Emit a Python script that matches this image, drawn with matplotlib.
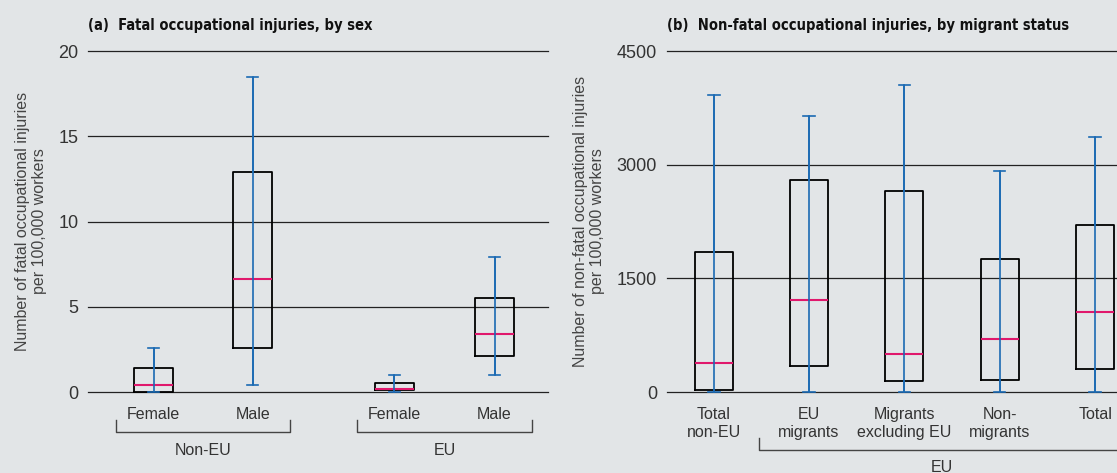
import matplotlib
matplotlib.use('Agg')
import matplotlib.pyplot as plt

# panel (a): fatal injuries by sex
fatal_labels=['Female','Male','Female','Male']
fatal_groups=['Non-EU','EU']
fatal_lo=[0.0,0.4,0.0,1.0]
fatal_q1=[0.0,2.6,0.1,2.1]
fatal_med=[0.4,6.6,0.2,3.4]
fatal_q3=[1.4,12.9,0.55,5.5]
fatal_hi=[2.6,18.5,1.0,7.9]

# panel (b): non-fatal injuries by migrant status
nonfatal_labels=['Total\nnon-EU','EU\nmigrants','Migrants\nexcluding EU','Non-\nmigrants','Total']
nonfatal_group='EU'
nonfatal_lo=[0,0,0,0,0]
nonfatal_q1=[30,340,150,160,300]
nonfatal_med=[380,1210,500,700,1060]
nonfatal_q3=[1850,2800,2650,1760,2200]
nonfatal_hi=[3920,3640,4050,2920,3360]

BG='#e2e5e7'
BLUE='#1b6ab3'
PINK='#e0186c'
TXT='#333333'
TITLE_FONT=['Liberation Sans Narrow','DejaVu Sans Condensed','DejaVu Sans']
BODY_FONT=['Liberation Sans','DejaVu Sans']

fig=plt.figure(figsize=(11.17,4.73),dpi=100,facecolor=BG)
axa=fig.add_axes([88/1117,(473-392)/473,460/1117,341/473])
axb=fig.add_axes([666.6/1117,(473-392)/473,450.4/1117,341/473])


def draw_boxes(ax,pos,lo,q1,med,q3,hi,width,capw):
    stats=[dict(whislo=a,q1=b,med=c,q3=d,whishi=e) for a,b,c,d,e in zip(lo,q1,med,q3,hi)]
    art=ax.bxp(stats,positions=pos,widths=width,capwidths=capw,showfliers=False,
               boxprops=dict(color='black',linewidth=1.3),
               whiskerprops=dict(color=BLUE,linewidth=1.2),
               capprops=dict(color=BLUE,linewidth=1.2),
               medianprops=dict(color=PINK,linewidth=1.5),
               manage_ticks=False)
    # blue line runs right through each box
    ax.vlines(pos,lo,hi,color=BLUE,linewidth=1.2,zorder=3,clip_on=False)
    for k in art:
        for a in art[k]:
            a.set_clip_on(False)


def style(ax,ticks,ylim,ylabel):
    ax.set_facecolor(BG)
    for s in ax.spines.values():
        s.set_visible(False)
    ax.set_ylim(*ylim)
    ax.set_yticks(ticks)
    for t in ticks:
        ax.axhline(t,color='#222222',linewidth=0.9,zorder=0.5,clip_on=False)
    ax.tick_params(axis='y',length=0,pad=7,labelsize=13,labelcolor=TXT)
    ax.tick_params(axis='x',length=0,pad=10.5,labelsize=11.5,labelcolor=TXT)
    for t in ax.get_yticklabels():
        t.set_family(BODY_FONT)
    ax.set_ylabel(ylabel,fontsize=11.5,color='#444444',family=BODY_FONT,labelpad=8)


def bracket(ax,x0,x1,y,h,label,lx,ly):
    tr=ax.get_xaxis_transform()
    ax.plot([x0,x0,x1,x1],[y+h,y,y,y+h],color='#444444',linewidth=1.0,
            transform=tr,clip_on=False)
    ax.text(lx,ly,label,transform=tr,ha='center',va='center',fontsize=11.5,
            color=TXT,family=BODY_FONT)


# panel a
pos_a=[0,1,2.43,3.44]
draw_boxes(axa,pos_a,fatal_lo,fatal_q1,fatal_med,fatal_q3,fatal_hi,0.39,0.11)
axa.set_xlim(-0.663,3.98)
style(axa,[0,5,10,15,20],(0,20),'Number of fatal occupational injuries\nper 100,000 workers')
axa.set_xticks(pos_a)
axa.set_xticklabels(fatal_labels,family=BODY_FONT)
bracket(axa,-0.383,1.378,-0.117,0.035,fatal_groups[0],0.5,-0.173)
bracket(axa,2.055,3.815,-0.117,0.035,fatal_groups[1],2.935,-0.173)
axa.text(0,1.075,'(a)  Fatal occupational injuries, by sex',transform=axa.transAxes,
         ha='left',va='center',fontsize=10.5,fontweight='bold',fontstretch='condensed',
         family=TITLE_FONT,color='#111111')

# panel b
pos_b=[0,1,2,3,4]
draw_boxes(axb,pos_b,nonfatal_lo,nonfatal_q1,nonfatal_med,nonfatal_q3,nonfatal_hi,0.40,0.12)
axb.set_xlim(-0.495,4.23)
style(axb,[0,1500,3000,4500],(0,4500),'Number of non-fatal occupational injuries\nper 100,000 workers')
axb.set_xticks(pos_b)
axb.set_xticklabels(nonfatal_labels,family=BODY_FONT,linespacing=1.3)
bracket(axb,0.474,4.6,-0.170,0.035,nonfatal_group,2.39,-0.222)
axb.text(0,1.075,'(b)  Non-fatal occupational injuries, by migrant status',transform=axb.transAxes,
         ha='left',va='center',fontsize=10.5,fontweight='bold',fontstretch='condensed',
         family=TITLE_FONT,color='#111111')

fig.savefig('out.png',dpi=100,facecolor=BG)
